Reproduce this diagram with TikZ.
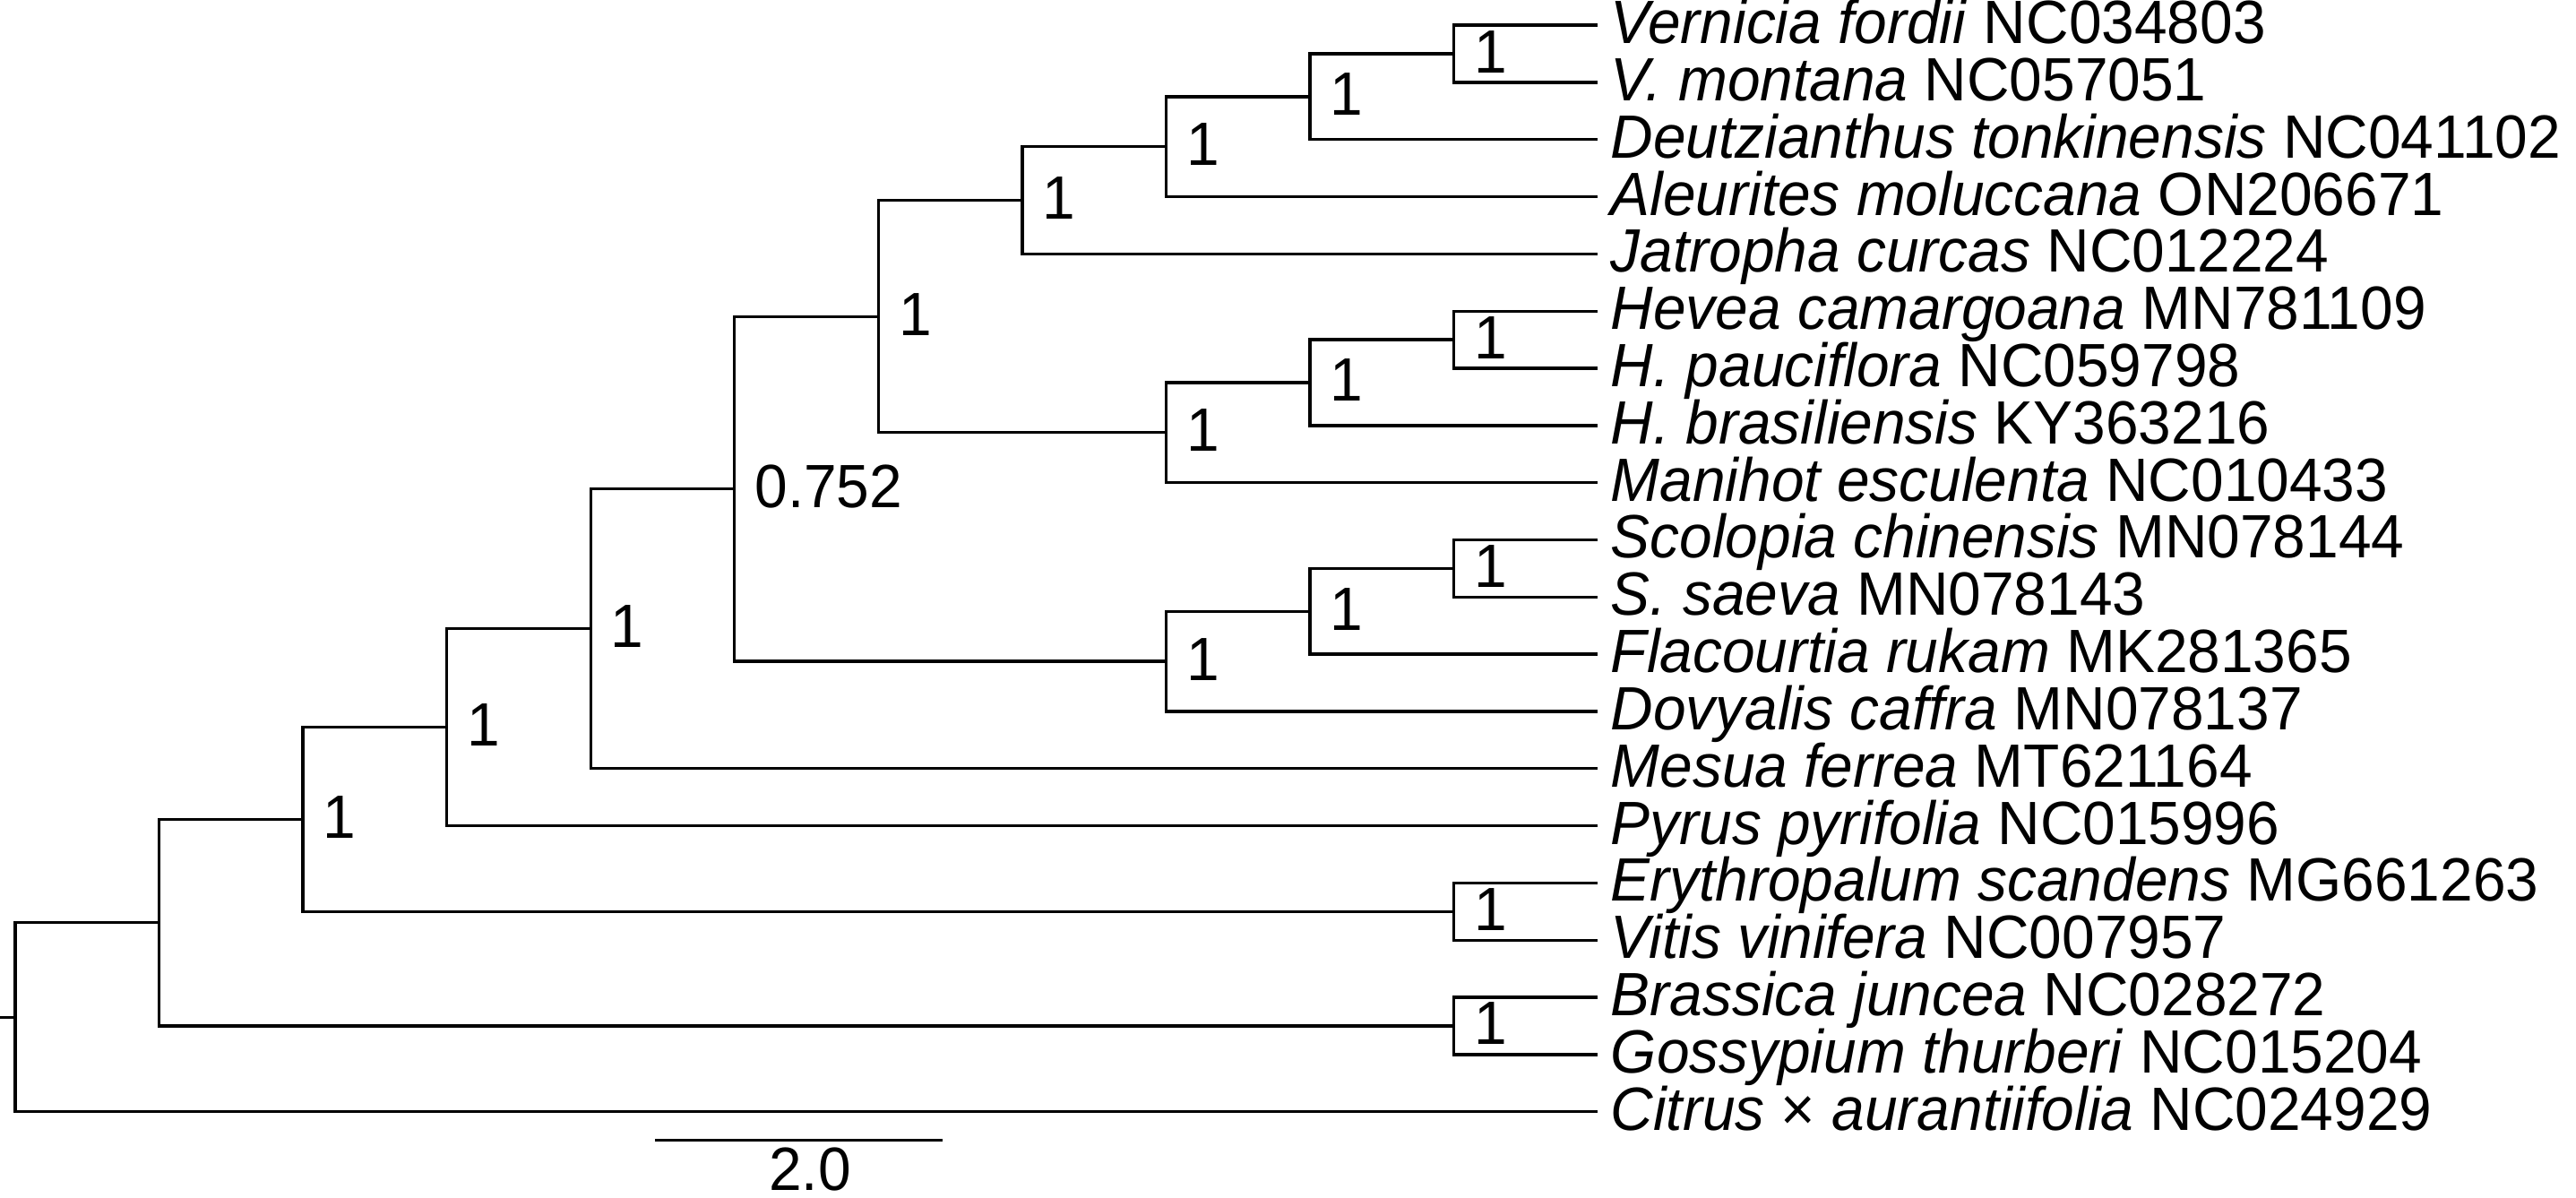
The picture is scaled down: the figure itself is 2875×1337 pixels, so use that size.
\documentclass[tikz,border=0pt]{standalone}
\usepackage{fontspec}
\setmainfont[FakeStretch=0.965]{Liberation Sans}
\usetikzlibrary{calc}

\tikzset{
  branch/.style={line width=0.95pt},
  taxon/.style={anchor=base west, inner sep=0pt, xshift=0.14cm, yshift=-0.205cm},
  pp/.style={anchor=base west, inner sep=0pt, xshift=0.22cm, yshift=-0.21cm}
}

% clade: name, level, upper child, lower child
\newcommand{\clade}[4]{%
  \coordinate (mid) at ($(#3)!0.5!(#4)$);
  \coordinate (#1) at (mid -| x#2);
  \draw[branch] (#3) -| (#1) |- (#4);
}

\begin{document}
\begin{tikzpicture}[x=0.01cm, y=-0.01cm,
    every node/.style={font=\fontsize{19.4}{22}\selectfont}]
  \useasboundingbox (0,0) rectangle (2875,1337);
  \coordinate (origin) at (0,0);
  \foreach \k in {0,...,11}
    \coordinate (x\k) at ({17+160.55*\k},0);

  % leaves
  \foreach \i/\txt in {
      0/{\textit{Vernicia fordii} NC034803},
      1/{\textit{V. montana} NC057051},
      2/{\textit{Deutzianthus tonkinensis} NC041102},
      3/{\textit{Aleurites moluccana} ON206671},
      4/{\textit{Jatropha curcas} NC012224},
      5/{\textit{Hevea camargoana} MN781109},
      6/{\textit{H. pauciflora} NC059798},
      7/{\textit{H. brasiliensis} KY363216},
      8/{\textit{Manihot esculenta} NC010433},
      9/{\textit{Scolopia chinensis} MN078144},
      10/{\textit{S. saeva} MN078143},
      11/{\textit{Flacourtia rukam} MK281365},
      12/{\textit{Dovyalis caffra} MN078137},
      13/{\textit{Mesua ferrea} MT621164},
      14/{\textit{Pyrus pyrifolia} NC015996},
      15/{\textit{Erythropalum scandens} MG661263},
      16/{\textit{Vitis vinifera} NC007957},
      17/{\textit{Brassica juncea} NC028272},
      18/{\textit{Gossypium thurberi} NC015204},
      19/{\textit{Citrus} × \textit{aurantiifolia} NC024929}}{
    \coordinate (t\i) at (x11 |- {0,28.1+63.82*\i});
    \node[taxon] (lab\i) at (t\i) {\txt};
  }

  % clades
  \clade{cVer}{10}{t0}{t1}
  \clade{cDeu}{9}{cVer}{t2}
  \clade{cAle}{8}{cDeu}{t3}
  \clade{cJat}{7}{cAle}{t4}
  \clade{cHev}{10}{t5}{t6}
  \clade{cHbr}{9}{cHev}{t7}
  \clade{cMan}{8}{cHbr}{t8}
  \clade{cEup}{6}{cJat}{cMan}
  \clade{cSco}{10}{t9}{t10}
  \clade{cFla}{9}{cSco}{t11}
  \clade{cDov}{8}{cFla}{t12}
  \clade{cMal}{5}{cEup}{cDov}
  \clade{cMes}{4}{cMal}{t13}
  \clade{cPyr}{3}{cMes}{t14}
  \clade{cVit}{10}{t15}{t16}
  \clade{cRos}{2}{cPyr}{cVit}
  \clade{cBra}{10}{t17}{t18}
  \clade{cCore}{1}{cRos}{cBra}
  \clade{root}{0}{cCore}{t19}
  \coordinate (stub) at (root -| origin);
  \draw[branch] (stub) -- (root);

  % support values
  \foreach \n/\v in {cVer/1, cDeu/1, cAle/1, cJat/1, cHev/1, cHbr/1,
      cMan/1, cEup/1, cSco/1, cFla/1, cDov/1, cMal/0.752, cMes/1,
      cPyr/1, cVit/1, cRos/1, cBra/1}
    \node[pp] (pp-\n) at (\n) {\v};

  % scale bar
  \coordinate (sb0) at (731,1272.5);
  \coordinate (sb1) at (1052,1272.5);
  \draw[branch] (sb0) -- (sb1);
  \node[anchor=base, inner sep=0pt] (sblab) at (904,1328) {2.0};
\end{tikzpicture}
\end{document}
